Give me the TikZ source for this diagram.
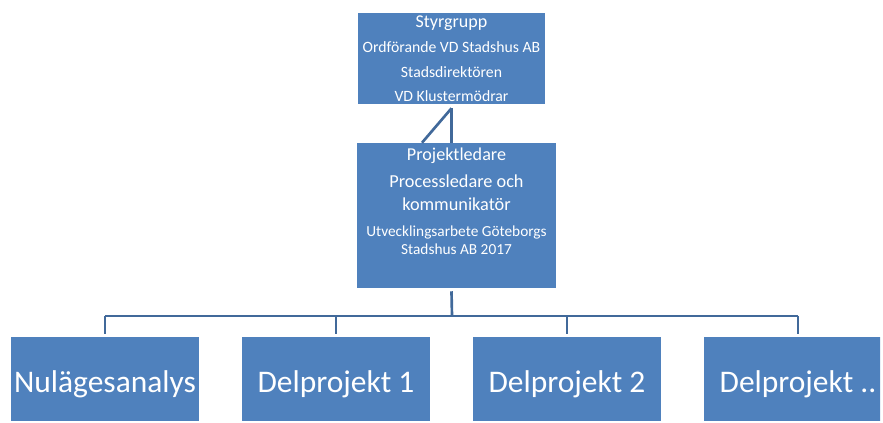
\documentclass[tikz,border=0pt]{standalone}
\usepackage{fontspec}
\setmainfont{Carlito}
\usetikzlibrary{calc,positioning}
\definecolor{boxblue}{HTML}{4F81BD}
\definecolor{lineblue}{HTML}{41699A}

\begin{document}
\begin{tikzpicture}[x=0.75pt,y=-0.75pt,
	box/.style={rectangle,fill=boxblue,inner sep=0pt},
	txt/.style={text=white,inner sep=0pt,anchor=base},
	conn/.style={draw=lineblue,line width=2pt}]
	\useasboundingbox (0,0) rectangle (883,423);
	\clip (0,0) rectangle (880,421);

	\node[box,minimum width=140.25pt,minimum height=68.25pt] (styr) at (451.5,58.5) {};
	\node[box,minimum width=149.25pt,minimum height=108.75pt] (proj) at (456.5,215.5) {};
	\foreach \x/\t [count=\i] in {105/Nulägesanalys,336/Delprojekt 1,567/Delprojekt 2,798/{Delprojekt ..}} {
		\node[box,minimum width=141pt,minimum height=68.25pt] (d\i) at (\x,382.5) {};
		\node[txt,font=\fontsize{23.6}{24}\selectfont] (n\i) at (\x,393) {\t};
	}

	\foreach \y/\s/\t [count=\i] in {28/13.5/Styrgrupp,53/11.8/Ordförande VD Stadshus AB,78/11.8/Stadsdirektören,102/11.8/VD Klustermödrar}
		\node[txt,font=\fontsize{\s}{\s}\selectfont] (s\i) at (451.5,\y) {\t};
	\foreach \y/\s/\t [count=\i] in {161/13.6/Projektledare,188/13.7/Processledare och,211/13.7/kommunikatör,237/11.5/Utvecklingsarbete Göteborgs,255/11.5/Stadshus AB 2017}
		\node[txt,font=\fontsize{\s}{\s}\selectfont] (p\i) at (456.5,\y) {\t};

	% styrgrupp -- projektledare
	\coordinate (k) at ($(styr.south)+(0,4)$);
	\coordinate (kd) at ($(proj.north)+(-34.5,0)$);
	\draw[conn] (k) -- (k |- proj.north);
	\draw[conn] (k) -- (kd);

	% projektledare -- delprojekt
	\coordinate (bus) at (452,316);
	\draw[conn] ($(k |- proj.south)+(0,3)$) -- (bus);
	\draw[conn] (d1.north |- bus) -- (d4.north |- bus);
	\foreach \i in {1,...,4}
		\draw[conn] (d\i.north |- bus) -- ($(d\i.north)+(0,-3)$);
\end{tikzpicture}
\end{document}
